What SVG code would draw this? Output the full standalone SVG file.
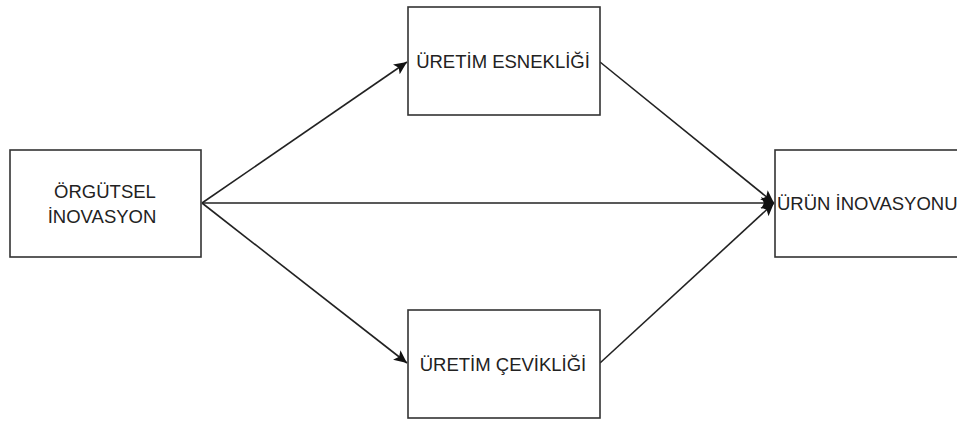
<svg xmlns="http://www.w3.org/2000/svg" width="957" height="424" viewBox="0 0 957 424">
<style>
.box{fill:#fff;stroke:#333;stroke-width:1.6}
.lbl{font-family:"Liberation Sans",Arial,sans-serif;font-size:18.5px;fill:#222}
.edge{fill:none;stroke:#222;stroke-width:1.6;marker-end:url(#ah)}
</style>
<defs>
<marker id="ah" markerUnits="userSpaceOnUse" markerWidth="14" markerHeight="12" refX="13" refY="6" orient="auto">
<path d="M0,0 L13,6 L0,12 L3,6 Z" fill="#111"/>
</marker>
</defs>
<rect width="957" height="424" fill="#fff"/>
<g id="edges">
<line class="edge" x1="202" y1="203" x2="407" y2="62"/>
<line class="edge" x1="202" y1="203" x2="407" y2="363"/>
<line class="edge" x1="202" y1="203" x2="774" y2="203"/>
<line class="edge" x1="600" y1="62" x2="774" y2="203"/>
<line class="edge" x1="600" y1="363" x2="774" y2="203"/>
</g>
<g id="orgutsel">
<rect class="box" x="10" y="150" width="191" height="107"/>
<text class="lbl" x="105" y="198" text-anchor="middle">ÖRGÜTSEL</text>
<text class="lbl" x="102" y="223" text-anchor="middle">İNOVASYON</text>
</g>
<g id="esneklik">
<rect class="box" x="408" y="7" width="192" height="108"/>
<text class="lbl" x="503" y="68" text-anchor="middle">ÜRETİM ESNEKLİĞİ</text>
</g>
<g id="ceviklik">
<rect class="box" x="408" y="310" width="192" height="108"/>
<text class="lbl" x="503" y="371" text-anchor="middle">ÜRETİM ÇEVİKLİĞİ</text>
</g>
<g id="urun">
<rect class="box" x="775" y="150" width="200" height="107"/>
<text class="lbl" x="777" y="210">ÜRÜN İNOVASYONU</text>
</g>
</svg>
